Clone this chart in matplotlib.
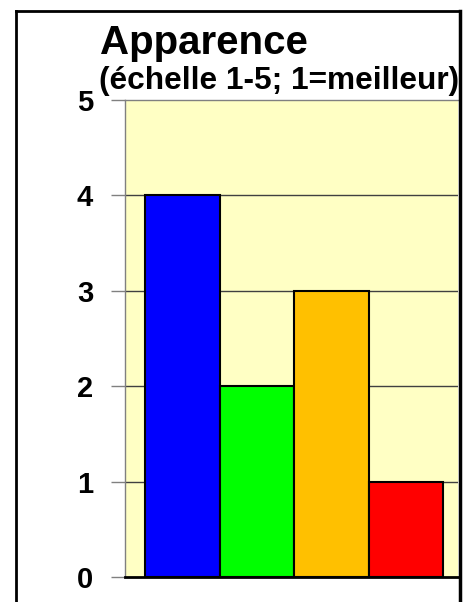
import matplotlib
matplotlib.use("Agg")
import matplotlib.pyplot as plt
from matplotlib.lines import Line2D

plt.rcParams['font.family'] = ['Liberation Sans', 'DejaVu Sans']

series = ["A", "B", "C", "D"]
values = [4, 2, 3, 1]
colors = ["#0000FF", "#00FF00", "#FFC000", "#FF0000"]
yticks = [0, 1, 2, 3, 4, 5]
title = "Apparence"
subtitle = "(échelle 1-5; 1=meilleur)"

W, H = 466, 602
fig = plt.figure(figsize=(W / 100, H / 100), dpi=100)

def fx(px):
    return px / W

def fy(py):
    return 1 - py / H

left, right, top, bottom = 125, 458, 100, 577
ax = fig.add_axes([fx(left), fy(bottom), fx(right - left), fy(top) - fy(bottom)])
ax.set_facecolor("#FFFFC4")

pos = list(range(len(values)))
ax.bar(pos, values, width=1.0, color=colors, edgecolor="black", linewidth=1.5, zorder=3)

ax.set_ylim(0, 5)
ax.set_xlim(-0.5 - 20 / 74.5, 3.5 + 15 / 74.5)
ax.set_yticks(yticks)
ax.set_yticklabels([str(t) for t in yticks], fontsize=21, fontweight="bold")
ax.set_xticks([])
ax.tick_params(axis="y", length=10, width=1, color="#808080", pad=13)
for t in yticks[1:-1]:
    ax.axhline(t, color="#404040", linewidth=1, zorder=1)

ax.spines["left"].set_color("#808080")
ax.spines["left"].set_linewidth(1)
ax.spines["top"].set_color("#808080")
ax.spines["top"].set_linewidth(1)
ax.spines["bottom"].set_color("black")
ax.spines["bottom"].set_linewidth(2)
ax.spines["right"].set_visible(False)

fig.text(fx(100), fy(54), title, fontsize=29, fontweight="bold", ha="left", va="baseline")
fig.text(fx(99), fy(89), subtitle, fontsize=22.8, fontweight="bold", ha="left", va="baseline")

# outer chart border
fig.add_artist(Line2D([fx(16), fx(16)], [fy(11), 0], color="black", linewidth=2))
fig.add_artist(Line2D([fx(16), fx(460)], [fy(11), fy(11)], color="black", linewidth=2))
fig.add_artist(Line2D([fx(459.5), fx(459.5)], [fy(11), 0], color="black", linewidth=2.5))

fig.savefig("out.png", dpi=100)
